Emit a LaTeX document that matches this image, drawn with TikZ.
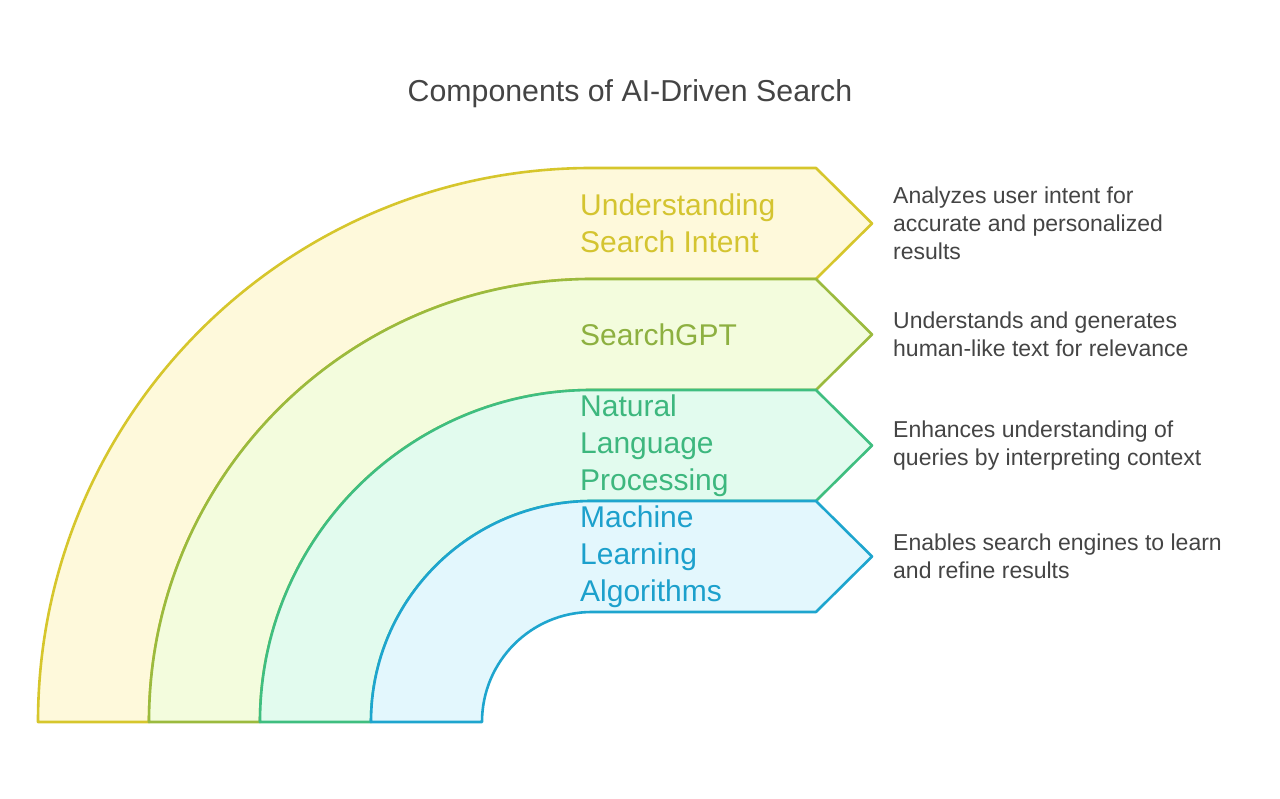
\documentclass[tikz,border=0pt]{standalone}
\usepackage{fontspec}
\setmainfont{Liberation Sans}
\usetikzlibrary{positioning}
\definecolor{bandAline}{RGB}{214,198,44}
\definecolor{bandAfill}{RGB}{254,249,219}
\definecolor{bandAtext}{RGB}{212,196,48}
\definecolor{bandBline}{RGB}{155,186,62}
\definecolor{bandBfill}{RGB}{243,252,221}
\definecolor{bandBtext}{RGB}{141,176,64}
\definecolor{bandCline}{RGB}{63,190,128}
\definecolor{bandCfill}{RGB}{226,251,238}
\definecolor{bandCtext}{RGB}{61,183,126}
\definecolor{bandDline}{RGB}{30,165,206}
\definecolor{bandDfill}{RGB}{227,247,253}
\definecolor{bandDtext}{RGB}{28,160,204}
\definecolor{desctext}{RGB}{68,68,68}
\tikzset{
  band/.style={line width=2.6pt,line join=round},
  label/.style={anchor=west,inner sep=0pt,align=left,font=\fontsize{30}{37}\selectfont},
  desc/.style={anchor=west,inner sep=0pt,align=left,text=desctext,font=\fontsize{23}{28}\selectfont}
}
\begin{document}
\begin{tikzpicture}[x=1pt,y=1pt]
\useasboundingbox (0,0) rectangle (1280,799);
\node[text=desctext,font=\fontsize{30.3}{35}\selectfont] (title) at (630,705) {Components of AI-Driven Search};
\foreach \R/\r/\c in {554/443/bandA,443/332/bandB,332/221/bandC,221/110/bandD}
  \filldraw[band,fill=\c fill,draw=\c line]
  (592-\R,77) arc (180:90:\R) -- (816,77+\R) -- (872,77+\R/2+\r/2)
  -- (816,77+\r) -- (592,77+\r) arc (90:180:\r) -- cycle;
\node[label,text=bandAtext] (intent) at (580,575.5) {Understanding\\Search Intent};
\node[label,text=bandBtext] (gpt) at (580,464.5) {SearchGPT};
\node[label,text=bandCtext] (nlp) at (580,353.5) {Natural\\Language\\Processing};
\node[label,text=bandDtext] (ml) at (580,242.5) {Machine\\Learning\\Algorithms};
\node[desc] (intentdesc) at (893,575.5) {Analyzes user intent for\\accurate and personalized\\results};
\node[desc] (gptdesc) at (893,464.5) {Understands and generates\\human-like text for relevance};
\node[desc] (nlpdesc) at (893,353.5) {Enhances understanding of\\queries by interpreting context};
\node[desc] (mldesc) at (893,242.5) {Enables search engines to learn\\and refine results};
\end{tikzpicture}
\end{document}
